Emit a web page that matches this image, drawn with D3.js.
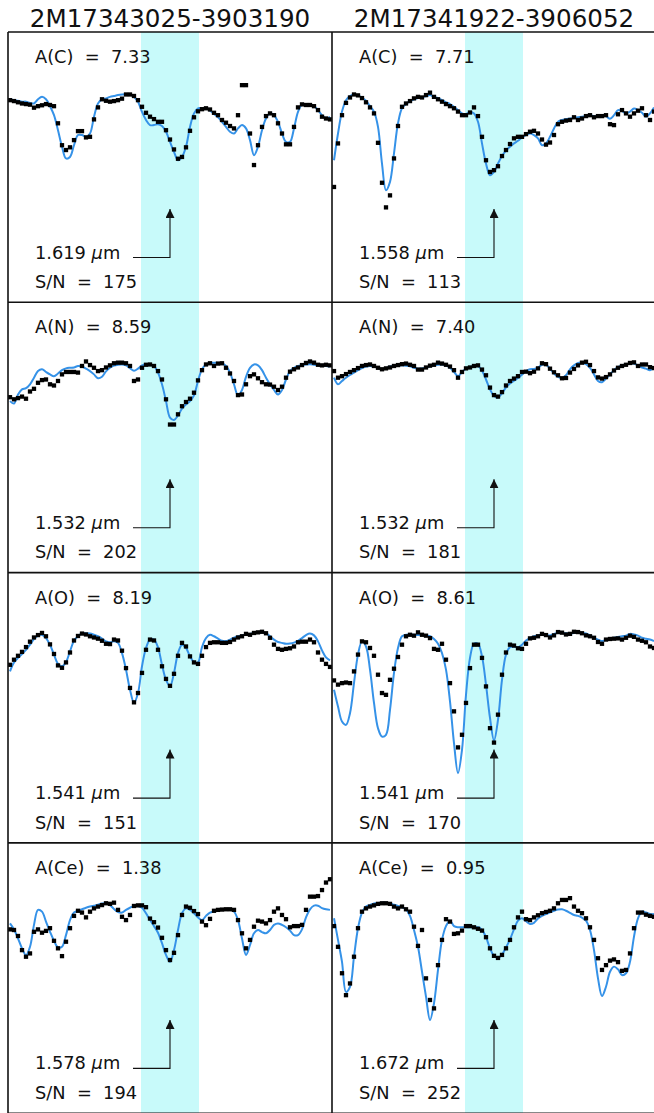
<!DOCTYPE html>
<html>
<head>
<meta charset="utf-8">
<script src="https://cdn.jsdelivr.net/npm/d3@7"></script>
<style>
  html, body { margin: 0; padding: 0; background: #fff; }
  svg text { font-family: "DejaVu Sans", sans-serif; fill: #111; white-space: pre; }
</style>
</head>
<body>
<div id="chart"></div>
<script>
// stars (columns) and elements (rows)
const stars = ['2M17343025-3903190', '2M17341922-3906052'];
const elements = ['C', 'N', 'O', 'Ce'];
const abund = [[7.33, 7.71], [8.59, 7.40], [8.19, 8.61], [1.38, 0.95]];
const lineWave = [[1.619, 1.558], [1.532, 1.532], [1.541, 1.541], [1.578, 1.672]];
const snr = [[175, 113], [202, 181], [151, 170], [194, 252]];

// spectral sampling (offset from line centre, Angstrom)
const gridStart = -8.0;
const gridStep = 0.2;

// normalised flux, observed (obs) and synthetic fit (mod)
const obsC1 = [0.973,0.970,0.966,0.962,0.960,0.958,0.948,0.953,0.956,0.960,
  0.957,0.953,0.896,0.823,0.807,0.816,0.840,0.870,0.870,0.849,
  0.851,0.909,0.949,0.976,0.971,0.968,0.970,0.973,0.978,0.992,
  0.992,0.987,0.973,0.951,0.931,0.918,0.910,0.901,0.901,0.873,
  0.842,0.809,0.778,0.784,0.816,0.871,0.916,0.936,0.943,0.946,
  0.942,0.931,0.923,0.907,0.898,0.887,0.879,0.923,1.023,1.023,
  0.862,0.757,0.823,0.884,0.920,0.929,0.923,0.896,0.862,0.826,
  0.826,0.884,0.949,0.959,0.957,0.957,0.953,0.940,0.918,0.912,
  0.909];
const modC1 = [0.976,0.973,0.971,0.968,0.968,0.964,0.962,0.976,0.984,0.976,
  0.953,0.923,0.873,0.818,0.779,0.784,0.823,0.857,0.857,0.851,
  0.862,0.918,0.962,0.976,0.979,0.984,0.987,0.990,0.992,0.993,
  0.992,0.984,0.968,0.934,0.907,0.890,0.890,0.893,0.887,0.868,
  0.834,0.801,0.773,0.784,0.818,0.884,0.929,0.946,0.946,0.946,
  0.938,0.927,0.916,0.901,0.884,0.868,0.862,0.879,0.890,0.879,
  0.840,0.790,0.818,0.873,0.912,0.929,0.923,0.901,0.862,0.834,
  0.834,0.879,0.934,0.959,0.960,0.957,0.953,0.940,0.923,0.912,
  0.918];
const obsC2 = [0.684,0.829,0.923,0.964,0.982,0.992,0.989,0.980,0.966,0.949,
  0.929,0.831,0.698,0.616,0.656,0.779,0.887,0.951,0.962,0.970,
  0.979,0.984,0.982,0.990,0.998,0.984,0.976,0.968,0.960,0.953,
  0.946,0.935,0.923,0.923,0.932,0.949,0.920,0.851,0.773,0.734,
  0.740,0.753,0.787,0.807,0.827,0.846,0.851,0.851,0.860,0.868,
  0.871,0.862,0.842,0.825,0.832,0.857,0.893,0.901,0.905,0.907,
  0.916,0.907,0.912,0.920,0.923,0.916,0.920,0.920,0.923,0.893,
  0.890,0.926,0.940,0.929,0.918,0.929,0.938,0.946,0.923,0.907,
  0.935];
const modC2 = [0.773,0.862,0.935,0.973,0.987,0.992,0.989,0.982,0.971,0.953,
  0.935,0.884,0.762,0.673,0.701,0.796,0.896,0.946,0.960,0.970,
  0.976,0.980,0.983,0.986,0.990,0.984,0.980,0.973,0.966,0.960,
  0.951,0.940,0.929,0.927,0.934,0.929,0.901,0.829,0.762,0.723,
  0.734,0.762,0.787,0.805,0.818,0.829,0.838,0.849,0.857,0.862,
  0.857,0.846,0.823,0.829,0.851,0.879,0.901,0.907,0.910,0.912,
  0.914,0.916,0.918,0.920,0.923,0.920,0.918,0.922,0.920,0.911,
  0.923,0.940,0.937,0.929,0.935,0.945,0.940,0.931,0.918,0.929,
  0.949];

const obsN1 = [0.884,0.877,0.881,0.886,0.879,0.903,0.912,0.932,0.941,0.943,
  0.927,0.923,0.938,0.960,0.968,0.968,0.968,0.966,0.988,1.003,
  0.991,0.982,0.971,0.974,0.983,0.990,0.997,0.999,0.999,0.997,
  0.988,0.938,0.943,0.982,0.992,0.993,0.988,0.971,0.943,0.877,
  0.793,0.793,0.827,0.854,0.868,0.879,0.899,0.940,0.974,0.993,
  0.997,0.988,0.996,0.997,0.982,0.963,0.938,0.891,0.893,0.927,
  0.954,0.960,0.947,0.934,0.927,0.926,0.919,0.908,0.919,0.949,
  0.969,0.977,0.983,0.991,0.998,1.003,0.999,0.992,0.990,0.992,
  0.990];
const modN1 = [0.871,0.863,0.893,0.910,0.914,0.927,0.949,0.971,0.977,0.968,
  0.960,0.954,0.963,0.974,0.980,0.982,0.983,0.988,0.986,0.979,
  0.971,0.960,0.947,0.952,0.970,0.982,0.989,0.992,0.993,0.990,
  0.981,0.972,0.979,0.990,0.993,0.992,0.988,0.966,0.927,0.871,
  0.816,0.808,0.823,0.846,0.860,0.871,0.890,0.938,0.977,0.993,
  0.998,0.999,0.998,0.997,0.988,0.966,0.927,0.890,0.908,0.952,
  0.982,0.993,0.990,0.974,0.949,0.927,0.908,0.893,0.908,0.943,
  0.971,0.982,0.988,0.991,0.993,0.994,0.992,0.990,0.988,0.988,
  0.986];
const obsN2 = [0.971,0.949,0.954,0.961,0.968,0.974,0.981,0.988,0.991,0.993,
  0.988,0.982,0.977,0.980,0.983,0.988,0.991,0.994,0.996,0.992,
  0.988,0.976,0.976,0.983,0.989,0.992,0.999,0.996,0.992,0.986,
  0.974,0.949,0.968,0.980,0.983,0.988,0.990,0.976,0.957,0.916,
  0.891,0.886,0.901,0.923,0.938,0.946,0.954,0.968,0.969,0.964,
  0.969,0.980,0.997,0.994,0.979,0.967,0.957,0.947,0.948,0.966,
  0.978,0.990,0.999,1.002,0.991,0.971,0.950,0.946,0.951,0.960,
  0.973,0.982,0.988,0.992,0.998,1.000,0.988,0.993,0.993,0.984,
  0.981];
const modN2 = [0.949,0.927,0.938,0.949,0.958,0.966,0.974,0.981,0.986,0.988,
  0.986,0.981,0.977,0.981,0.986,0.988,0.989,0.990,0.989,0.987,
  0.982,0.979,0.980,0.982,0.987,0.990,0.992,0.993,0.990,0.982,
  0.968,0.954,0.968,0.979,0.984,0.989,0.988,0.972,0.943,0.910,
  0.888,0.883,0.897,0.917,0.930,0.939,0.948,0.959,0.971,0.977,
  0.978,0.982,0.992,0.992,0.979,0.963,0.952,0.948,0.957,0.977,
  0.990,0.998,0.999,0.994,0.982,0.960,0.938,0.934,0.946,0.960,
  0.974,0.984,0.990,0.993,0.996,0.996,0.990,0.983,0.979,0.974,
  0.981];

const obsO1 = [0.893,0.910,0.923,0.936,0.952,0.970,0.984,0.992,0.999,0.988,
  0.961,0.929,0.891,0.883,0.901,0.934,0.974,0.989,0.997,0.994,
  0.988,0.984,0.980,0.973,0.963,0.962,0.977,0.974,0.940,0.882,
  0.816,0.768,0.799,0.866,0.943,0.977,0.974,0.943,0.888,0.846,
  0.823,0.863,0.923,0.966,0.954,0.921,0.901,0.896,0.923,0.952,
  0.966,0.968,0.968,0.966,0.966,0.969,0.977,0.984,0.988,0.996,
  0.993,0.999,1.001,1.003,0.998,0.983,0.960,0.946,0.943,0.946,
  0.948,0.954,0.968,0.970,0.970,0.977,0.968,0.934,0.910,0.896,
  0.886];
const modO1 = [0.871,0.901,0.916,0.929,0.943,0.960,0.979,0.990,0.993,0.982,
  0.960,0.927,0.896,0.888,0.902,0.938,0.973,0.988,0.997,0.998,
  0.997,0.993,0.988,0.980,0.971,0.968,0.971,0.966,0.932,0.877,
  0.810,0.766,0.799,0.888,0.949,0.977,0.977,0.951,0.893,0.843,
  0.821,0.866,0.932,0.960,0.949,0.921,0.902,0.901,0.952,0.982,
  0.993,0.988,0.980,0.973,0.972,0.977,0.983,0.988,0.991,0.993,
  0.996,0.998,0.999,1.001,0.998,0.988,0.977,0.969,0.966,0.963,
  0.964,0.967,0.973,0.982,0.992,0.997,0.991,0.971,0.941,0.918,
  0.908];
const obsO2 = [0.841,0.827,0.832,0.834,0.832,0.871,0.927,0.971,0.968,0.949,
  0.923,0.860,0.799,0.793,0.843,0.880,0.919,0.960,0.988,0.993,
  0.990,1.001,0.993,0.990,0.982,0.946,0.943,0.963,0.910,0.832,
  0.738,0.618,0.660,0.766,0.882,0.960,0.960,0.916,0.821,0.682,
  0.634,0.727,0.860,0.934,0.960,0.957,0.948,0.946,0.963,0.981,
  0.983,0.988,0.996,0.992,0.984,0.991,1.002,1.000,0.994,0.996,
  1.003,1.002,0.998,0.991,0.988,0.983,0.969,0.963,0.977,0.979,
  0.980,0.981,0.977,0.983,0.990,0.986,0.977,0.973,0.968,0.954,
  0.949];
const modO2 = [0.810,0.754,0.704,0.693,0.732,0.832,0.927,0.971,0.954,0.877,
  0.766,0.682,0.654,0.660,0.743,0.866,0.949,0.988,0.993,0.994,
  0.993,0.992,0.992,0.991,0.988,0.979,0.963,0.932,0.877,0.771,
  0.632,0.532,0.610,0.793,0.916,0.963,0.963,0.921,0.827,0.716,
  0.641,0.710,0.843,0.927,0.952,0.954,0.951,0.960,0.974,0.982,
  0.988,0.991,0.993,0.992,0.991,0.996,0.999,0.999,0.998,0.997,
  0.999,1.001,1.000,0.997,0.991,0.983,0.977,0.972,0.976,0.980,
  0.983,0.986,0.988,0.990,0.996,0.994,0.990,0.983,0.980,0.977,
  0.972];

const obsCe1 = [0.912,0.910,0.890,0.843,0.821,0.832,0.904,0.912,0.901,0.907,
  0.916,0.874,0.849,0.823,0.871,0.916,0.957,0.974,0.968,0.952,
  0.971,0.982,0.988,0.993,0.999,0.997,1.001,0.977,0.954,0.943,
  0.960,0.990,0.992,0.992,0.986,0.948,0.936,0.918,0.884,0.843,
  0.810,0.834,0.893,0.960,0.988,0.984,0.973,0.963,0.938,0.926,
  0.947,0.974,0.977,0.978,0.979,0.979,0.977,0.943,0.899,0.849,
  0.877,0.921,0.941,0.938,0.932,0.943,0.971,0.982,0.960,0.946,
  0.919,0.923,0.923,0.927,0.977,1.021,1.021,1.023,1.043,1.068,
  1.079];
const modCe1 = [0.932,0.912,0.882,0.849,0.826,0.854,0.927,0.977,0.971,0.938,
  0.904,0.874,0.852,0.854,0.893,0.943,0.968,0.974,0.979,0.984,
  0.988,0.991,0.994,0.998,0.999,0.993,0.980,0.970,0.968,0.977,
  0.984,0.990,0.990,0.984,0.966,0.943,0.923,0.901,0.866,0.827,
  0.804,0.843,0.910,0.966,0.982,0.977,0.966,0.952,0.943,0.957,
  0.968,0.972,0.976,0.978,0.979,0.978,0.971,0.943,0.882,0.827,
  0.860,0.899,0.910,0.903,0.899,0.910,0.927,0.932,0.927,0.919,
  0.908,0.893,0.893,0.912,0.952,0.979,0.991,0.991,0.983,0.979,
  0.977];
const obsCe2 = [0.923,0.854,0.766,0.693,0.732,0.821,0.916,0.971,0.982,0.988,
  0.992,0.997,0.999,0.999,0.997,0.988,0.982,0.988,0.979,0.971,
  0.921,0.857,0.910,0.749,0.677,0.649,0.793,0.877,0.946,0.938,
  0.897,0.899,0.908,0.923,0.923,0.919,0.914,0.908,0.886,0.849,
  0.824,0.817,0.827,0.849,0.877,0.919,0.952,0.971,0.946,0.943,
  0.952,0.959,0.966,0.970,0.974,0.982,0.999,1.010,1.010,1.016,
  0.988,0.974,0.966,0.949,0.919,0.877,0.816,0.777,0.793,0.808,
  0.812,0.803,0.774,0.777,0.832,0.916,0.968,0.968,0.961,0.957,
  0.954];
const modCe2 = [0.949,0.877,0.804,0.704,0.721,0.821,0.916,0.968,0.988,0.993,
  0.998,1.000,1.001,1.001,0.999,0.994,0.990,0.986,0.979,0.957,
  0.910,0.854,0.771,0.688,0.610,0.666,0.777,0.877,0.923,0.941,
  0.923,0.919,0.919,0.919,0.919,0.919,0.919,0.910,0.886,0.849,
  0.824,0.817,0.828,0.852,0.879,0.912,0.941,0.949,0.939,0.930,
  0.934,0.948,0.957,0.963,0.969,0.974,0.978,0.979,0.974,0.967,
  0.960,0.957,0.951,0.941,0.910,0.843,0.749,0.690,0.721,0.771,
  0.788,0.779,0.760,0.766,0.804,0.888,0.949,0.971,0.968,0.963,
  0.963];

// [row][col] -> [observed, model]
const spectra = [
  [[obsC1, modC1], [obsC2, modC2]],
  [[obsN1, modN1], [obsN2, modN2]],
  [[obsO1, modO1], [obsO2, modO2]],
  [[obsCe1, modCe1], [obsCe2, modCe2]]
];

const width = 654, height = 1113;
const left0 = 8, top0 = 32;
const pw = 324, ph = 270.3;
const bandHalf = 1.45;

const svg = d3.select('#chart').append('svg')
  .attr('width', width)
  .attr('height', height);

const x = d3.scaleLinear().domain([-8.1, 8.1]).range([0, pw]);
const y = d3.scaleLinear().domain([0.3, 1.2]).range([ph, 0]);

const line = d3.line()
  .x(d => x(d.w))
  .y(d => y(d.f))
  .curve(d3.curveCatmullRom.alpha(0.5));

const toPoints = (arr) => arr.map((f, i) => ({ w: gridStart + i * gridStep, f: f }));

// arrow head
svg.append('defs').append('marker')
  .attr('id', 'head')
  .attr('viewBox', '0 0 10 10')
  .attr('refX', 10).attr('refY', 5)
  .attr('markerWidth', 9).attr('markerHeight', 9)
  .attr('markerUnits', 'userSpaceOnUse')
  .attr('orient', 'auto')
  .append('path')
    .attr('d', 'M0,0 L10,5 L0,10 Z')
    .attr('fill', '#111');

// star names on top
stars.forEach((s, c) => {
  svg.append('text')
    .attr('x', left0 + c * pw + pw / 2)
    .attr('y', 27)
    .attr('text-anchor', 'middle')
    .style('font-size', '24.6px')
    .text(s);
});

elements.forEach((el, r) => {
  stars.forEach((s, c) => {
    const g = svg.append('g')
      .attr('transform', 'translate(' + (left0 + c * pw) + ',' + (top0 + r * ph) + ')');
    const clipId = 'clip' + r + c;
    g.append('clipPath').attr('id', clipId)
      .append('rect').attr('width', pw).attr('height', ph);

    // highlighted window round the line
    g.append('rect')
      .attr('x', x(-bandHalf))
      .attr('width', x(bandHalf) - x(-bandHalf))
      .attr('y', 0)
      .attr('height', ph)
      .attr('fill', '#c8fafa');

    const [obs, mod] = spectra[r][c];
    const plot = g.append('g').attr('clip-path', 'url(#' + clipId + ')');

    plot.append('path')
      .datum(toPoints(mod))
      .attr('d', line)
      .attr('fill', 'none')
      .attr('stroke', '#3592e8')
      .attr('stroke-width', 2);

    const sz = 4.3;
    plot.selectAll('rect.pt')
      .data(toPoints(obs))
      .enter()
      .append('rect')
      .attr('class', 'pt')
      .attr('x', d => x(d.w) - sz / 2)
      .attr('y', d => y(d.f) - sz / 2)
      .attr('width', sz)
      .attr('height', sz)
      .attr('fill', '#000');

    // labels
    g.append('text')
      .attr('x', 27).attr('y', 31)
      .style('font-size', '17.8px')
      .text('A(' + el + ')  =  ' + abund[r][c].toFixed(2));

    const wt = g.append('text')
      .attr('x', 27).attr('y', 226.5)
      .style('font-size', '17.8px');
    wt.append('tspan').text(lineWave[r][c].toFixed(3) + ' ');
    wt.append('tspan').style('font-style', 'italic').text('\u03bc');
    wt.append('tspan').text('m');

    g.append('text')
      .attr('x', 27).attr('y', 256)
      .style('font-size', '17.8px')
      .text('S/N  =  ' + snr[r][c]);

    // arrow to the line centre
    g.append('path')
      .attr('d', d3.line()([[x(-1.85), 225.5], [x(0), 225.5], [x(0), 177]]))
      .attr('fill', 'none')
      .attr('stroke', '#111')
      .attr('stroke-width', 1.1)
      .attr('marker-end', 'url(#head)');
  });
});

// frame lines
const frame = svg.append('g').attr('stroke', '#111').attr('stroke-width', 1.6);
d3.range(elements.length + 1).forEach(r => {
  frame.append('line')
    .attr('x1', left0).attr('x2', left0 + 2 * pw)
    .attr('y1', top0 + r * ph).attr('y2', top0 + r * ph);
});
d3.range(stars.length + 1).forEach(c => {
  frame.append('line')
    .attr('x1', left0 + c * pw).attr('x2', left0 + c * pw)
    .attr('y1', top0).attr('y2', top0 + elements.length * ph);
});
</script>
</body>
</html>
